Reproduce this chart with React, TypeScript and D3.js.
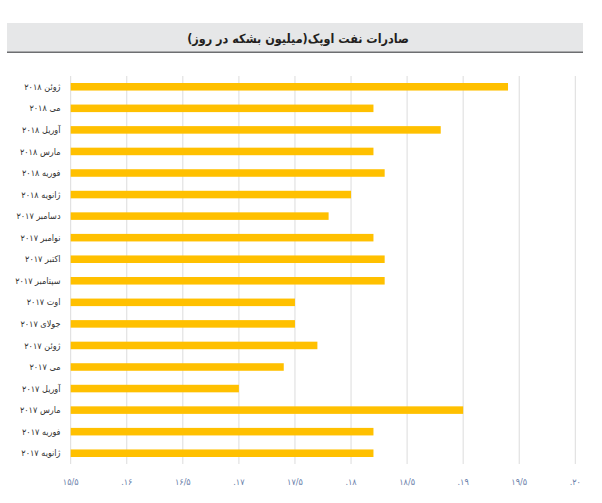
import React from 'react';
import * as d3 from 'd3';

// months, top to bottom as in the source chart
const months: string[] = [
  'ژوئن ۲۰۱۸', 'می ۲۰۱۸', 'آوریل ۲۰۱۸', 'مارس ۲۰۱۸', 'فوریه ۲۰۱۸', 'ژانویه ۲۰۱۸',
  'دسامبر ۲۰۱۷', 'نوامبر ۲۰۱۷', 'اکتبر ۲۰۱۷', 'سپتامبر ۲۰۱۷', 'اوت ۲۰۱۷', 'جولای ۲۰۱۷',
  'ژوئن ۲۰۱۷', 'می ۲۰۱۷', 'آوریل ۲۰۱۷', 'مارس ۲۰۱۷', 'فوریه ۲۰۱۷', 'ژانویه ۲۰۱۷',
];

const exports: number[] = [
  19.4, 18.2, 18.8, 18.2, 18.3, 18.0,
  17.8, 18.2, 18.3, 18.3, 17.5, 17.5,
  17.7, 17.4, 17.0, 19.0, 18.2, 18.2,
];

const ticks: number[] = [15.5, 16, 16.5, 17, 17.5, 18, 18.5, 19, 19.5, 20];
const tickLabels: string[] = ['۱۵/۵', '.۱۶', '۱۶/۵', '.۱۷', '۱۷/۵', '.۱۸', '۱۸/۵', '.۱۹', '۱۹/۵', '.۲۰'];

const title = 'صادرات نفت اوپک(میلیون بشکه در روز)';

const width = 602;
const height = 503;
const fa = '"DejaVu Sans Condensed", "DejaVu Sans", sans-serif';

export default function App() {
  const x = d3.scaleLinear().domain([15.5, 20]).range([70.7, 575.3]);
  const y = d3.scaleBand<string>().domain(months).range([76, 464]).paddingInner(0.65).paddingOuter(0.325);

  return (
    <svg width={width} height={height} style={{ position: 'absolute', left: 0, top: 0 }}>
      <rect width={width} height={height} fill="#fff" />
      {/* header */}
      <rect x={7} y={23} width={576} height={30} fill="#e6e7e8" />
      <line x1={7} x2={583} y1={52.3} y2={52.3} stroke="#6d6e71" strokeWidth={1.6} />
      <text x={298} y={42.5} textAnchor="middle" direction="rtl" style={{ direction: 'rtl', unicodeBidi: 'embed' }}
        fontFamily={fa} fontWeight="bold" fontSize={12.5} fill="#231f20">{title}</text>

      {/* grid */}
      {ticks.map((t) => (
        <line key={t} x1={x(t)} x2={x(t)} y1={y.range()[0]} y2={y.range()[1]} stroke="#dcdcdc" strokeWidth={1} />
      ))}

      {/* bars */}
      {months.map((m, i) => (
        <rect key={m} x={x(15.5)} y={y(m)} width={x(exports[i]) - x(15.5)} height={y.bandwidth()} fill="#ffc000" />
      ))}

      {/* category labels */}
      {months.map((m) => (
        <text key={m} x={60.5} y={(y(m) as number) + y.bandwidth() / 2} dy="0.35em" textAnchor="end"
          fontFamily={fa} fontSize={9} fill="#333">{m}</text>
      ))}

      {/* x tick labels */}
      {ticks.map((t, i) => (
        <text key={t} x={x(t)} y={482} dy="0.35em" textAnchor="middle" fontFamily={fa} fontSize={9} fill="#6a80aa">
          {tickLabels[i]}
        </text>
      ))}
    </svg>
  );
}
